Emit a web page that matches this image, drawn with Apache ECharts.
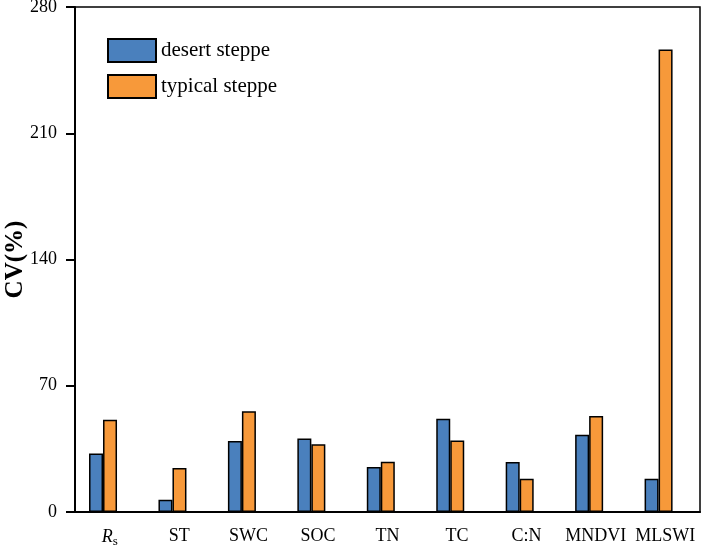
<!DOCTYPE html>
<html>
<head>
<meta charset="utf-8">
<script src="https://cdn.jsdelivr.net/npm/echarts@6/dist/echarts.min.js"></script>
<style>html,body{margin:0;padding:0;background:#fff}#c{width:702px;height:547px}</style>
</head>
<body>
<div id="c"></div>
<script>
const categories = ['Rs', 'ST', 'SWC', 'SOC', 'TN', 'TC', 'C:N', 'MNDVI', 'MLSWI'];
const desertSteppe = [32.5, 6.8, 39.4, 40.8, 24.9, 51.7, 27.7, 42.9, 18.5];
const typicalSteppe = [51.2, 24.4, 55.8, 37.5, 27.9, 39.7, 18.5, 53.2, 256.5];
const yTicks = [0, 70, 140, 210, 280];

const font = '"Liberation Serif", "Times New Roman", serif';
const chart = echarts.init(document.getElementById('c'));
chart.setOption({
  animation: false,
  textStyle: { fontFamily: font },
  grid: [
    { left: 75, right: 2, top: 7, bottom: 35, show: true, borderColor: '#000', borderWidth: 1.5, backgroundColor: 'transparent', containLabel: false, outerBoundsMode: 'none' },
    { left: 68.3, right: 8.7, top: 7, bottom: 35, show: false, containLabel: false, outerBoundsMode: 'none' }
  ],
  legend: {
    left: 102, top: 33, orient: 'vertical', itemWidth: 48, itemHeight: 23, itemGap: 11,
    icon: 'rect',
    textStyle: { fontFamily: font, fontSize: 21, color: '#000' },
    data: ['desert steppe', 'typical steppe']
  },
  xAxis: [{
    gridIndex: 0, type: 'category', data: categories,
    axisLine: { lineStyle: { color: '#000', width: 2 } },
    axisTick: { alignWithLabel: true, length: 8, lineStyle: { color: '#000', width: 2 } },
    axisLabel: {
      interval: 0,
      color: '#000', fontFamily: font, fontSize: 18, margin: 15,
      formatter: v => v === 'Rs' ? '{i|R}{s|s}' : v,
      rich: {
        i: { fontStyle: 'italic', fontSize: 18, fontFamily: font, color: '#000' },
        s: { fontSize: 13, fontFamily: font, color: '#000', padding: [8, 0, 0, 0] }
      }
    }
  }, {
    gridIndex: 1, type: 'category', data: categories, show: false
  }],
  yAxis: [{
    gridIndex: 0, type: 'value', min: yTicks[0], max: yTicks[yTicks.length - 1], interval: 70,
    name: 'CV(%)', nameLocation: 'middle', nameGap: 47, nameMoveOverlap: false,
    nameTextStyle: { fontFamily: font, fontSize: 25, fontWeight: 'bold', color: '#000' },
    splitLine: { show: false },
    axisLine: { show: true, lineStyle: { color: '#000', width: 2 } },
    axisTick: { show: true, length: 9, lineStyle: { color: '#000', width: 2 } },
    axisLabel: { color: '#000', fontFamily: font, fontSize: 18, margin: 18 }
  }, {
    gridIndex: 1, type: 'value', min: yTicks[0], max: yTicks[yTicks.length - 1], interval: 70, show: false,
    splitLine: { show: false }
  }],
  series: [
    { name: 'desert steppe', type: 'bar', xAxisIndex: 1, yAxisIndex: 1, data: desertSteppe, barWidth: 14, barGap: '0%',
      itemStyle: { color: '#4a80bd', borderColor: '#000', borderWidth: 1.5 } },
    { name: 'typical steppe', type: 'bar', xAxisIndex: 1, yAxisIndex: 1, data: typicalSteppe, barWidth: 14, barGap: '0%',
      itemStyle: { color: '#f7993a', borderColor: '#000', borderWidth: 1.5 } }
  ]
});
</script>
</body>
</html>
